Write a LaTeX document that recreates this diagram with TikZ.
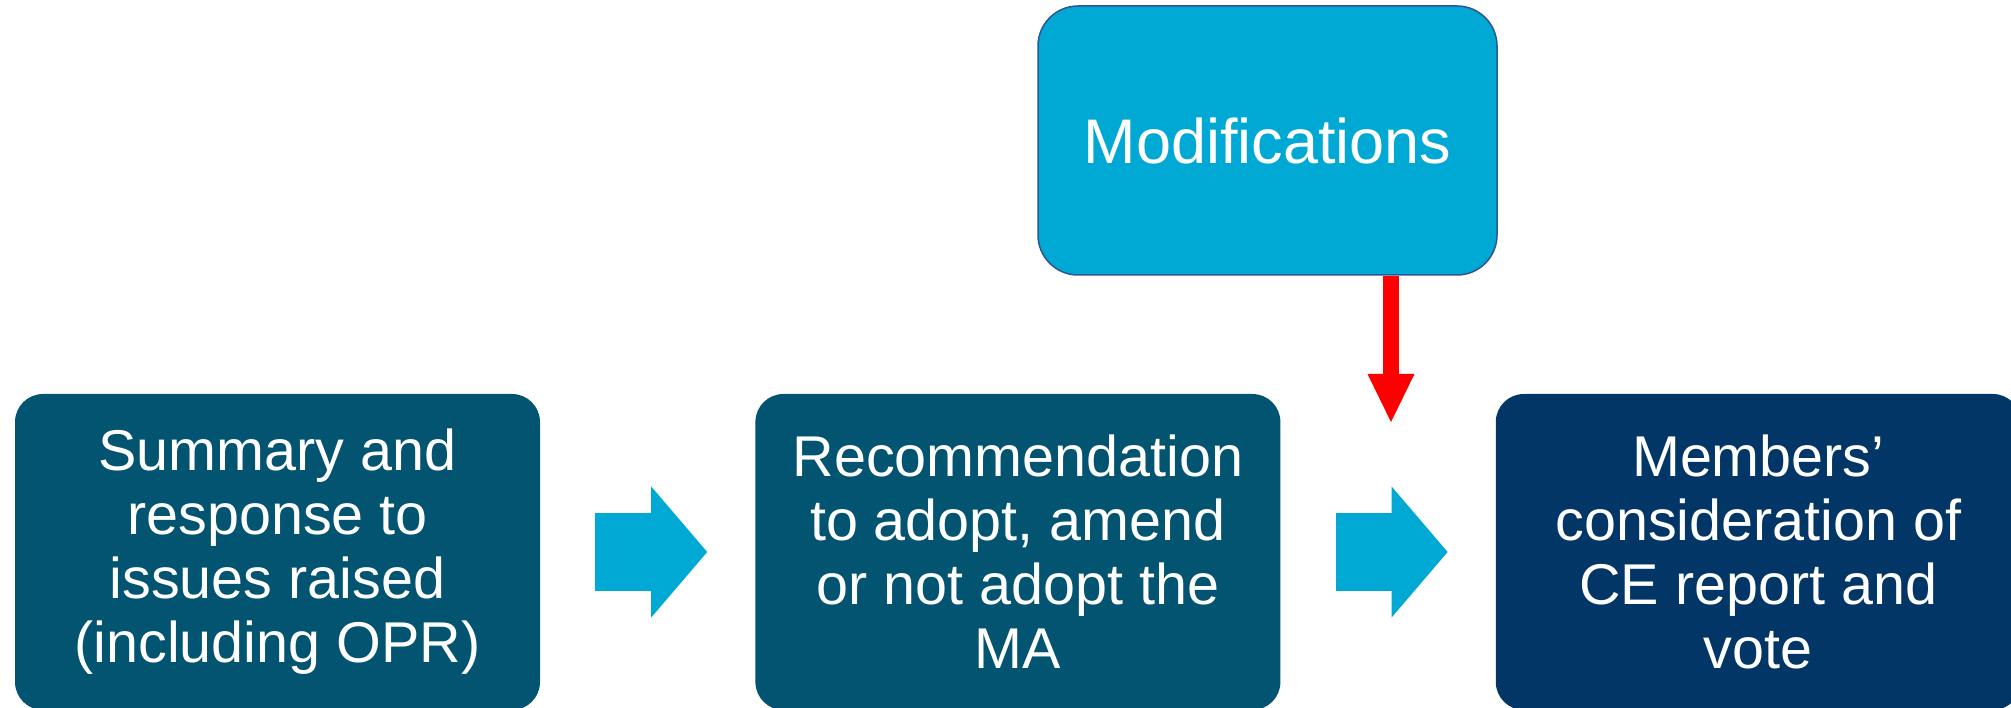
\documentclass[tikz,border=0pt]{standalone}
\usepackage{fontspec}
\setmainfont{Liberation Sans}
\usetikzlibrary{positioning,arrows.meta}

\definecolor{stageteal}{RGB}{2,84,112}
\definecolor{votenavy}{RGB}{2,54,102}
\definecolor{modcyan}{RGB}{0,169,212}
\definecolor{modedge}{RGB}{47,85,151}

\tikzset{
	stagebox/.style={rectangle,rounded corners=28pt,minimum width=525pt,minimum height=316pt,inner sep=0pt,text=white,align=center,font=\fontsize{57.5}{64}\selectfont},
	flowarrow/.style={modcyan,line width=78pt,-{Triangle[length=56pt,width=131pt,line width=0pt]}},
	modarrow/.style={red,line width=16pt,-{Triangle[length=48pt,width=47pt,line width=0pt]}},
}

\begin{document}
\begin{tikzpicture}[x=1pt,y=1pt]
			\useasboundingbox (0,0) rectangle (2011,707);
			\clip (0,0) rectangle (2011,707);
			
			\node[stagebox,fill=stageteal](sum) at (277.5,155){Summary and\\response to\\issues raised\\(including OPR)};
			\node[stagebox,fill=stageteal,right=215pt of sum](rec){Recommendation\\to adopt, amend\\or not adopt the\\MA};
			\node[stagebox,fill=votenavy,right=215pt of rec](vote){Members’\\consideration of\\CE report and\\vote};
			
			\node[rectangle,rounded corners=40pt,minimum width=459pt,minimum height=269pt,inner sep=0pt,fill=modcyan,draw=modedge,line width=1.5pt,text=white,font=\fontsize{63}{70}\selectfont](mod) at (1267.5,566.5){Modifications};
			
			\coordinate (a1s) at ([xshift=55pt]sum.east);
			\coordinate (a1e) at ([xshift=-48pt]rec.west);
			\coordinate (a2s) at ([xshift=55pt]rec.east);
			\coordinate (a2e) at ([xshift=-48pt]vote.west);
			\coordinate (modtip) at (1391,285);
			
			\draw[flowarrow](a1s)--(a1e);
			\draw[flowarrow](a2s)--(a2e);
			\draw[modarrow](modtip |- mod.south)--(modtip);
		\end{tikzpicture}
\end{document}
